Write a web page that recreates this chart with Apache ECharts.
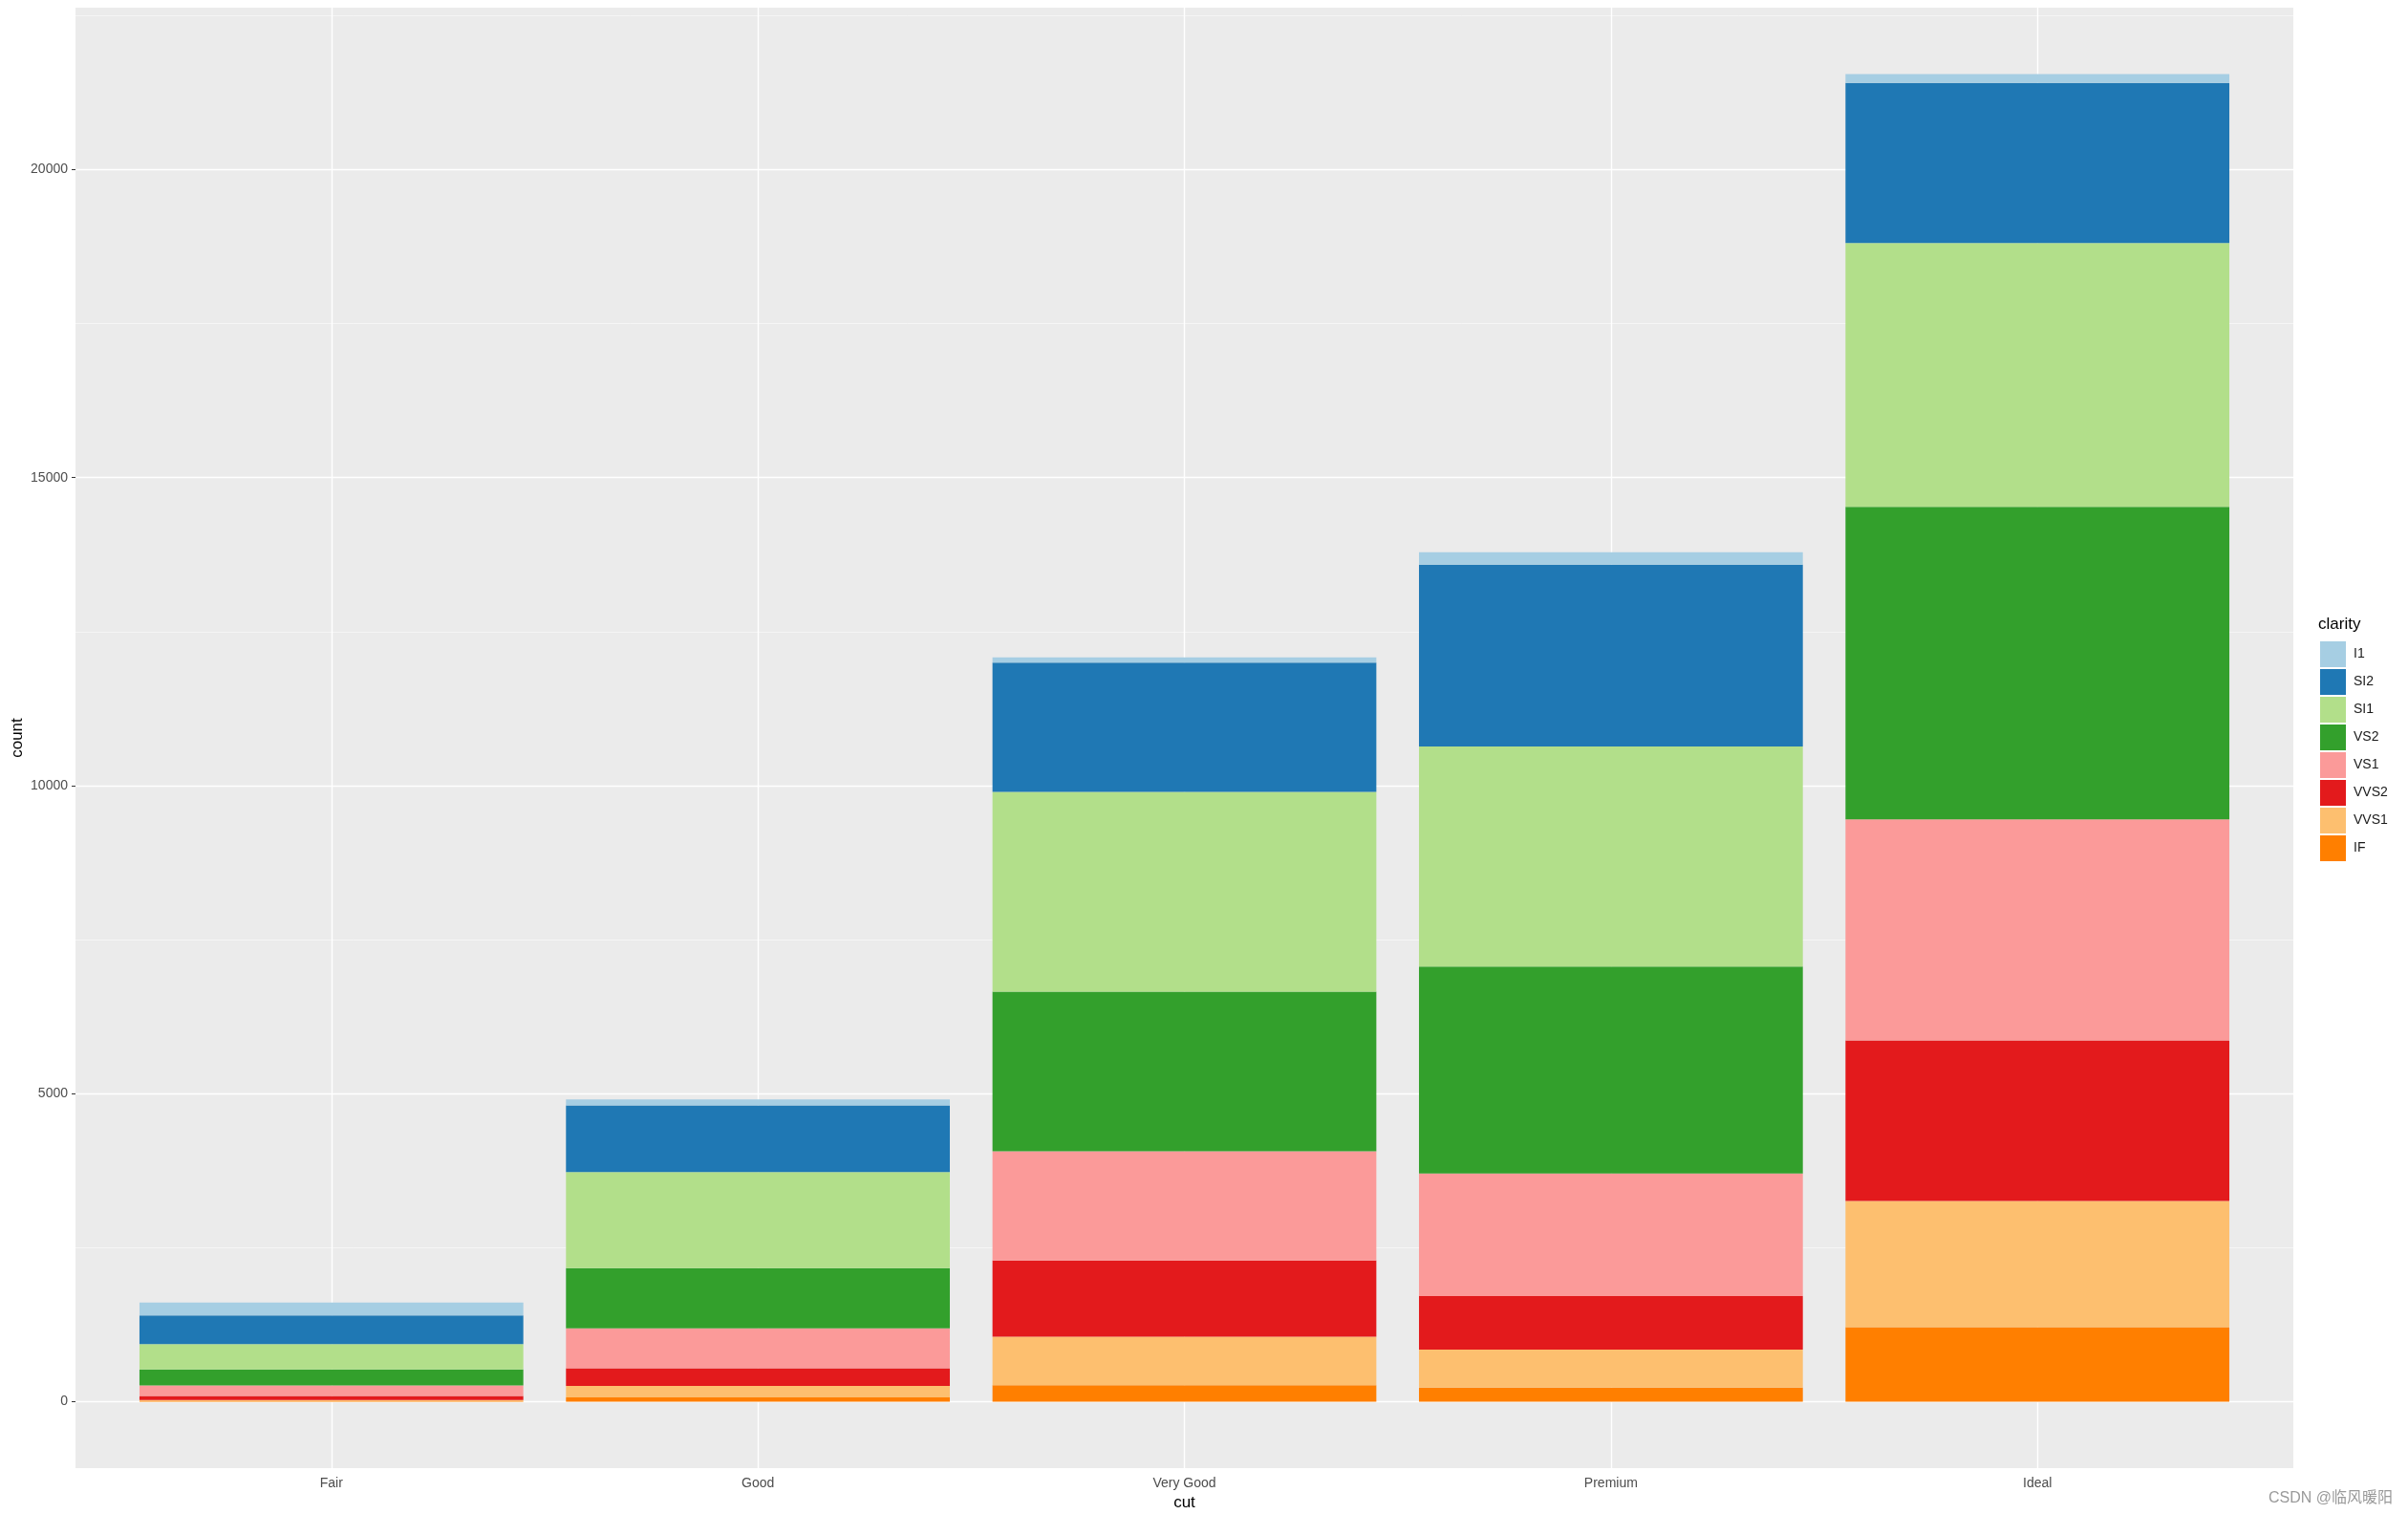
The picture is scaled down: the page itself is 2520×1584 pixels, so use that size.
<!DOCTYPE html>
<html>
<head>
<meta charset="utf-8">
<script src="https://cdn.jsdelivr.net/npm/echarts@6/dist/echarts.min.js"></script>
<style>
html,body{margin:0;padding:0;background:#fff;}
#chart{width:2520px;height:1584px;}
</style>
</head>
<body>
<div id="chart"></div>
<script>
// ---- data (diamonds: count by cut and clarity) ----
const categories = ['Fair', 'Good', 'Very Good', 'Premium', 'Ideal'];
const clarityLevels = ['I1', 'SI2', 'SI1', 'VS2', 'VS1', 'VVS2', 'VVS1', 'IF'];
const I1   = [210, 96, 84, 205, 146];
const SI2  = [466, 1081, 2100, 2949, 2598];
const SI1  = [408, 1560, 3240, 3575, 4282];
const VS2  = [261, 978, 2591, 3357, 5071];
const VS1  = [170, 648, 1775, 1989, 3589];
const VVS2 = [69, 286, 1235, 870, 2606];
const VVS1 = [17, 186, 789, 616, 2047];
const IF   = [9, 71, 268, 230, 1212];
const minorTicks = [2500, 7500, 12500, 17500, 22500];

const seriesValues = { I1, SI2, SI1, VS2, VS1, VVS2, VVS1, IF };
const colors = { I1:'#A6CEE3', SI2:'#1F78B4', SI1:'#B2DF8A', VS2:'#33A02C', VS1:'#FB9A99', VVS2:'#E31A1C', VVS1:'#FDBF6F', IF:'#FF7F00' };

// ggplot-like expansion
const totals = categories.map((c, i) => clarityLevels.reduce((s, k) => s + seriesValues[k][i], 0));
const ymax = Math.max(...totals);
const yMin = -0.05 * ymax, yMax = ymax * 1.05;

const panel = { left: 79, top: 8, right: 120, bottom: 48 };
const panelW = 2520 - panel.left - panel.right;
const unit = panelW / (categories.length + 0.2);
const inset = 0.1 * unit;

const FONT = 'Liberation Sans, Arial, sans-serif';

// stacking order: IF at bottom, I1 on top
const stackOrder = clarityLevels.slice().reverse();
const barSeries = stackOrder.map(k => ({
  name: k,
  type: 'bar',
  stack: 'total',
  xAxisIndex: 1,
  yAxisIndex: 1,
  barWidth: '90%',
  z: 3,
  itemStyle: { color: colors[k] },
  emphasis: { disabled: true },
  data: seriesValues[k]
}));

const option = {
  animation: false,
  backgroundColor: '#ffffff',
  title: {
    text: 'clarity',
    left: 2426,
    top: 645,
    textStyle: { fontFamily: FONT, fontSize: 17, fontWeight: 'normal', color: '#000' },
    padding: 0
  },
  legend: {
    orient: 'vertical',
    left: 2428,
    top: 671,
    padding: 0,
    itemWidth: 27,
    itemHeight: 27,
    itemGap: 2,
    icon: 'rect',
    data: clarityLevels,
    textStyle: { fontFamily: FONT, fontSize: 14, color: '#1a1a1a', padding: [0, 0, 0, 3] },
    selectedMode: false
  },
  grid: [
    { left: panel.left, top: panel.top, right: panel.right, bottom: panel.bottom, show: true, backgroundColor: '#EBEBEB', borderWidth: 0, containLabel: false, outerBoundsMode: 'none' },
    { left: panel.left + inset, top: panel.top, right: panel.right + inset, bottom: panel.bottom, show: false, containLabel: false, outerBoundsMode: 'none' }
  ],
  xAxis: [
    { type: 'value', gridIndex: 0, min: 0.4, max: categories.length + 0.6, show: false },
    {
      type: 'category', gridIndex: 1, data: categories,
      name: 'cut', nameLocation: 'middle', nameGap: 28,
      nameTextStyle: { fontFamily: FONT, fontSize: 17, color: '#000' },
      axisLine: { show: false },
      axisTick: { show: true, alignWithLabel: true, length: 4, lineStyle: { color: '#333333', width: 1 } },
      axisLabel: { fontFamily: FONT, fontSize: 14, color: '#4D4D4D', margin: 9 },
      splitLine: { show: false }
    }
  ],
  yAxis: [
    {
      type: 'value', gridIndex: 0, min: yMin, max: yMax, splitNumber: 5,
      axisLine: { show: false },
      axisTick: { show: true, length: 4, lineStyle: { color: '#333333', width: 1 } },
      axisLabel: { fontFamily: FONT, fontSize: 14, color: '#4D4D4D', margin: 8, showMinLabel: false, showMaxLabel: false, formatter: v => String(Math.round(v)) },
      splitLine: { show: true, showMinLine: false, showMaxLine: false, lineStyle: { color: '#FFFFFF', width: 1.4 } }
    },
    { type: 'value', gridIndex: 1, min: yMin, max: yMax, show: false, splitLine: { show: false } }
  ],
  series: [
    {
      type: 'line', xAxisIndex: 0, yAxisIndex: 0, data: [], silent: true, z: 1,
      markLine: {
        z: 1, silent: true, symbol: 'none', animation: false,
        label: { show: false },
        emphasis: { disabled: true },
        data: [
          ...minorTicks.map(v => ({ yAxis: v, lineStyle: { color: '#F7F7F7', width: 0.8, type: 'solid' } })),
          ...categories.map((c, i) => ({ xAxis: i + 1, lineStyle: { color: '#FFFFFF', width: 1.4, type: 'solid' } }))
        ]
      }
    },
    ...barSeries
  ],
  graphic: [
    {
      type: 'text', x: 18, y: 772, rotation: Math.PI / 2,
      style: { text: 'count', fontSize: 17, fontFamily: FONT, fill: '#000', align: 'center', verticalAlign: 'middle' }
    },
    {
      type: 'text', right: 16, bottom: 8,
      style: { text: 'CSDN @临风暖阳', fontSize: 16, fontFamily: 'Liberation Sans, "Noto Sans CJK SC", sans-serif', fill: '#9a9a9a' }
    }
  ]
};

const chart = echarts.init(document.getElementById('chart'), null, { renderer: 'canvas' });
chart.setOption(option);
</script>
</body>
</html>
